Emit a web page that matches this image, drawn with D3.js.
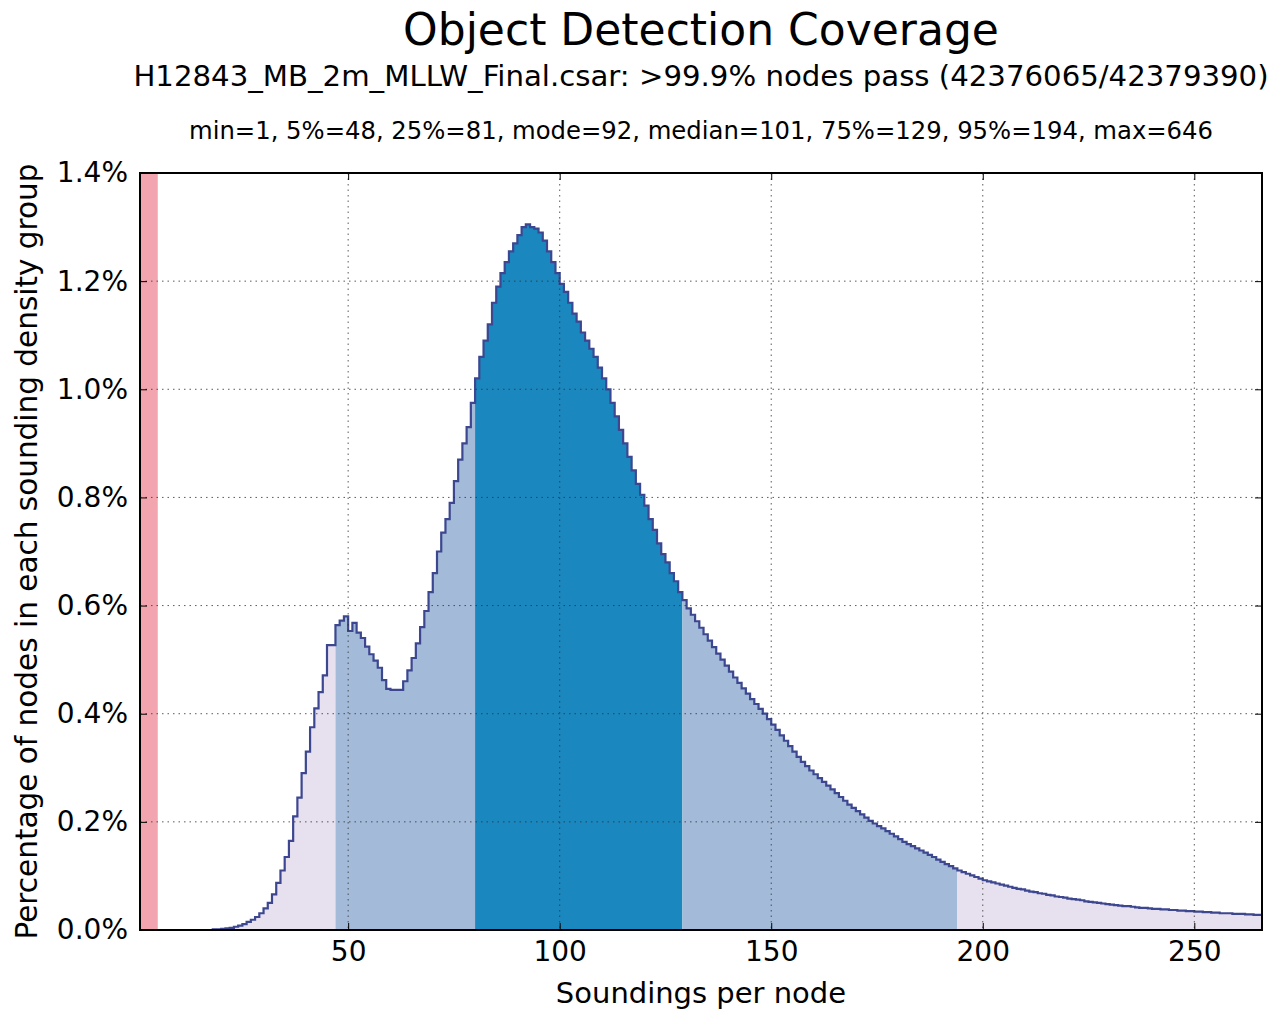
<!DOCTYPE html>
<html><head><meta charset="utf-8">
<script src="https://cdn.jsdelivr.net/npm/d3@7"></script>
<style>
body{margin:0;background:#fff}
svg{display:block}
text{font-family:"DejaVu Sans",sans-serif;fill:#000}
</style>
</head><body>
<svg id="chart" width="1277" height="1012"></svg>
<script>
const titleText = "Object Detection Coverage";
const subtitleText = "H12843_MB_2m_MLLW_Final.csar: >99.9% nodes pass (42376065/42379390)";
const statsText = "min=1, 5%=48, 25%=81, mode=92, median=101, 75%=129, 95%=194, max=646";
const xLabelText = "Soundings per node";
const yLabelText = "Percentage of nodes in each sounding density group";

const xTickValues = [50, 100, 150, 200, 250];
const yTickValues = [0, 0.2, 0.4, 0.6, 0.8, 1.0, 1.2, 1.4];

// soundings-per-node bins start at 1, one bin per integer
const binStart = 1;
// percentage of nodes in each bin
const pctLow = [
  0,0,0,0,0,0,0,0,0,0, 0,0,0,0,0,0,0,0.001,0.001,0.002,
  0.003,0.004,0.006,0.008,0.011,0.015,0.019,0.024,0.031,0.040,
  0.050,0.066,0.087,0.110,0.135,0.165,0.210,0.245,0.290,0.330,
  0.375,0.410,0.440,0.471,0.527,0.527,0.564,0.572,0.580,0.553,
  0.568,0.550,0.540,0.524,0.510,0.498,0.485,0.462,0.446,0.444,
  0.444,0.444,0.460,0.480,0.503,0.530,0.560,0.590,0.625,0.660
];
const pctPeak = [
  0.700,0.735,0.760,0.790,0.830,0.870,0.900,0.930,0.975,1.020,
  1.060,1.090,1.120,1.160,1.190,1.215,1.235,1.255,1.270,1.285,
  1.300,1.305,1.300,1.297,1.290,1.275,1.255,1.235,1.215,1.195,
  1.180,1.160,1.140,1.125,1.105,1.090,1.075,1.060,1.040,1.020,
  1.000,0.975,0.950,0.925,0.900,0.875,0.850,0.825,0.805,0.785,
  0.760,0.740,0.715,0.695,0.680,0.660,0.645,0.625,0.610,0.595
];
const pctTail = [
  0.583,0.571,0.559,0.547,0.535,0.523,0.511,0.500,0.489,0.478,
  0.467,0.457,0.447,0.437,0.427,0.418,0.409,0.400,0.390,0.380,
  0.370,0.360,0.350,0.340,0.330,0.320,0.311,0.303,0.295,0.288,
  0.281,0.274,0.267,0.260,0.253,0.246,0.239,0.232,0.226,0.220,
  0.214,0.208,0.202,0.197,0.192,0.188,0.183,0.178,0.173,0.168,
  0.163,0.159,0.155,0.151,0.147,0.143,0.139,0.135,0.130,0.126,
  0.122,0.118,0.114,0.110,0.107,0.104,0.101,0.098,0.095,0.092,
  0.090,0.088,0.086,0.084,0.082,0.080,0.078,0.076,0.075,0.073,
  0.071,0.070,0.068,0.067,0.065,0.064,0.062,0.061,0.060,0.058,
  0.057,0.056,0.055,0.053,0.052,0.051,0.050,0.049,0.048,0.047,
  0.046,0.045,0.044,0.044,0.043,0.042,0.041,0.041,0.040,0.039,
  0.039,0.038,0.038,0.037,0.037,0.036,0.036,0.035,0.035,0.034,
  0.034,0.033,0.033,0.032,0.032,0.031,0.031,0.031,0.030,0.030,
  0.030,0.029,0.029,0.028,0.028
];
// percentile band edges (5%, 25%, 75%, 95%) as drawn
const bandEdges = [47, 80, 129, 194];
const bandColors = ["#e7e1ef", "#a3bbd9", "#1a87bf", "#a3bbd9", "#e7e1ef"];
const failThreshold = 5;

const pct = pctLow.concat(pctPeak, pctTail);
const data = pct.map((v, i) => ({x: binStart + i, y: v}));
const lastX = binStart + pct.length;

const svg = d3.select("#chart");
const m = {left: 140, right: 1262, top: 173, bottom: 930};

const x = d3.scaleLinear().domain([0.8, 266]).range([m.left, m.right]);
const y = d3.scaleLinear().domain([0, 1.4]).range([m.bottom, m.top]);

const pts = data.concat([{x: lastX, y: pct[pct.length - 1]}]);

svg.append("defs").append("clipPath").attr("id", "plotclip")
  .append("rect").attr("x", m.left).attr("y", m.top)
  .attr("width", m.right - m.left).attr("height", m.bottom - m.top);

const plot = svg.append("g").attr("clip-path", "url(#plotclip)");

// fail band
plot.append("rect")
  .attr("x", x(0.8)).attr("y", m.top)
  .attr("width", x(failThreshold) - x(0.8)).attr("height", m.bottom - m.top)
  .attr("fill", "#f2a5ae");

// filled bands under the step curve
const edges = [binStart].concat(bandEdges, [lastX]);
const area = d3.area().x(d => x(d.x)).y0(y(0)).y1(d => y(d.y)).curve(d3.curveStepAfter);
for (let b = 0; b < edges.length - 1; b++) {
  const a0 = edges[b], a1 = edges[b + 1];
  const seg = data.filter(d => d.x >= a0 && d.x < a1);
  seg.push({x: a1, y: seg[seg.length - 1].y});
  plot.append("path").datum(seg).attr("d", area).attr("fill", bandColors[b]);
}

// grid (on top of fills)
const grid = svg.append("g").attr("stroke", "#333").attr("stroke-width", 1)
  .attr("stroke-dasharray", "1.5,4").attr("opacity", 0.8);
xTickValues.forEach(t => grid.append("line").attr("x1", x(t)).attr("x2", x(t)).attr("y1", m.top).attr("y2", m.bottom));
yTickValues.filter(t => t > 0 && t < 1.4).forEach(t => grid.append("line").attr("x1", m.left).attr("x2", m.right).attr("y1", y(t)).attr("y2", y(t)));

// step line
const line = d3.line().x(d => x(d.x)).y(d => y(d.y)).curve(d3.curveStepAfter);
plot.append("path").datum(pts).attr("d", line).attr("fill", "none")
  .attr("stroke", "#3c4790").attr("stroke-width", 2.2);

// axes
const xAxis = d3.axisBottom(x).tickValues(xTickValues).tickSize(-7).tickPadding(11).tickFormat(d3.format("d"));
const gx = svg.append("g").attr("transform", `translate(0,${m.bottom})`).call(xAxis);
gx.select(".domain").remove();
gx.selectAll("text").attr("font-size", 28).attr("font-family", "DejaVu Sans").attr("fill", "#000");
gx.selectAll("line").attr("stroke", "#000");

const xTop = d3.axisTop(x).tickValues(xTickValues).tickSize(-7).tickFormat("");
const gxt = svg.append("g").attr("transform", `translate(0,${m.top})`).call(xTop);
gxt.select(".domain").remove();

const yAxis = d3.axisLeft(y).tickValues(yTickValues).tickSize(-7).tickPadding(12).tickFormat(d => d.toFixed(1) + "%");
const gy = svg.append("g").attr("transform", `translate(${m.left},0)`).call(yAxis);
gy.select(".domain").remove();
gy.selectAll("text").attr("font-size", 28).attr("font-family", "DejaVu Sans").attr("fill", "#000");

const yRight = d3.axisRight(y).tickValues(yTickValues).tickSize(-7).tickFormat("");
const gyr = svg.append("g").attr("transform", `translate(${m.right},0)`).call(yRight);
gyr.select(".domain").remove();

// frame
svg.append("rect").attr("x", m.left).attr("y", m.top)
  .attr("width", m.right - m.left).attr("height", m.bottom - m.top)
  .attr("fill", "none").attr("stroke", "#000").attr("stroke-width", 2);

const cx = (m.left + m.right) / 2;
svg.append("text").attr("x", cx).attr("y", 45).attr("text-anchor", "middle")
  .attr("font-size", 44).text(titleText);
svg.append("text").attr("x", cx).attr("y", 86).attr("text-anchor", "middle")
  .attr("font-size", 29.2).text(subtitleText);
svg.append("text").attr("x", cx).attr("y", 139).attr("text-anchor", "middle")
  .attr("font-size", 24.3).text(statsText);
svg.append("text").attr("x", cx).attr("y", 1003).attr("text-anchor", "middle")
  .attr("font-size", 29).text(xLabelText);
svg.append("text").attr("transform", `translate(37,${(m.top + m.bottom) / 2}) rotate(-90)`)
  .attr("text-anchor", "middle").attr("font-size", 29.5).text(yLabelText);
</script>
</body></html>
